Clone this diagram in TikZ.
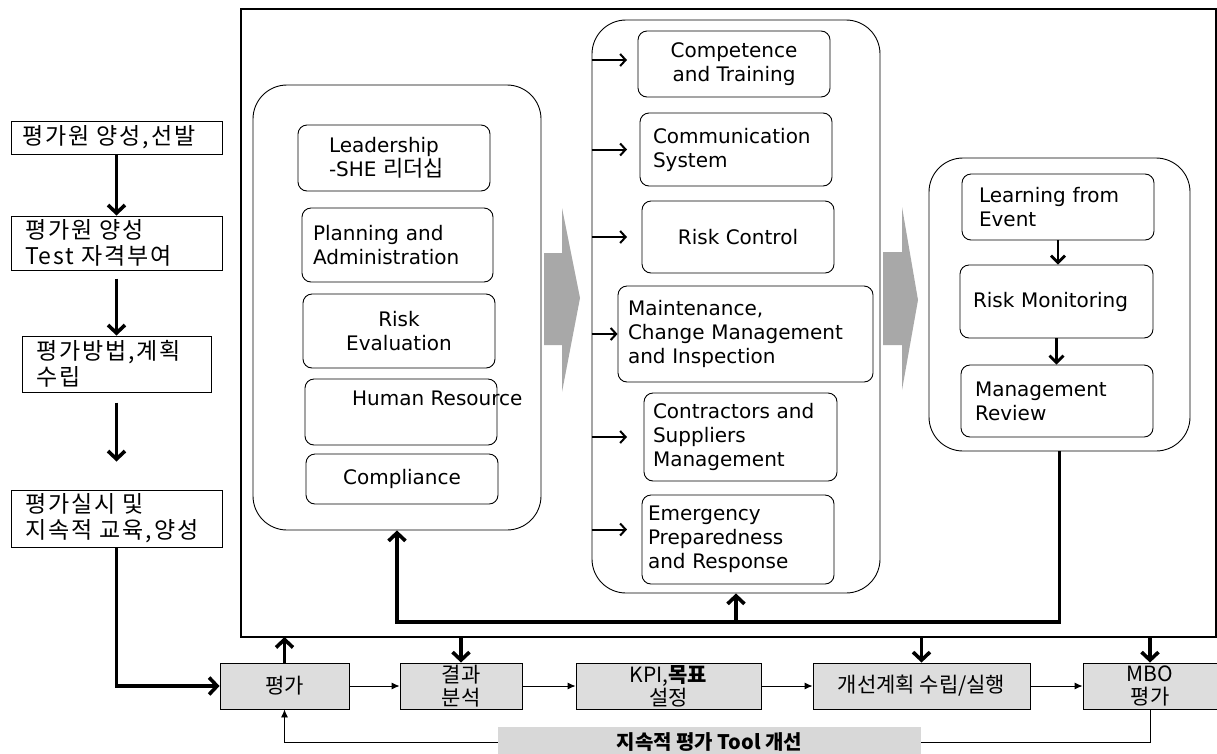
\documentclass[tikz,border=0pt]{standalone}
\usepackage{fontspec}
\setmainfont{DejaVu Sans}
\newfontfamily\krfont{Noto Sans CJK KR}
\newfontfamily\krwide{Noto Sans CJK KR}[LetterSpace=8]
\usepackage{xcolor}
\usepackage{tikz}
\usetikzlibrary{arrows.meta,positioning,calc}

\definecolor{boxgray}{RGB}{221,221,221}
\definecolor{bargray}{RGB}{216,216,216}
\definecolor{arrgray}{RGB}{168,168,168}
\newcommand{\kr}[1]{{\krfont\fontsize{22}{24}\selectfont #1}}

\tikzset{
  lbox/.style={draw, line width=1pt, inner ysep=0pt, align=left, font=\krwide\fontsize{23}{26}\selectfont},
  item/.style={draw, line width=0.9pt, rounded corners=9pt, inner ysep=0pt, font=\fontsize{20}{24}\selectfont},
  grp/.style={draw, line width=0.9pt, rounded corners=34pt, inner sep=0pt},
  gbox/.style={draw, line width=0.9pt, fill=boxgray, inner sep=0pt, minimum height=46pt, align=center, font=\krfont\fontsize{21}{23}\selectfont},
  thk/.style={line width=3.6pt, -{Straight Barb[length=8pt,width=17pt]}},
  mthk/.style={line width=2.8pt, -{Straight Barb[length=7pt,width=14pt]}},
  sarr/.style={line width=2pt, -{Straight Barb[length=5.5pt,width=12pt]}},
  tarr/.style={line width=0.9pt, -{Latex[length=8pt,width=7pt]}}
}

\begin{document}
\begin{tikzpicture}[x=1pt,y=-1pt]
	\useasboundingbox (0,0) rectangle (1217,753);

	%Shape: Rectangle (outer frame)
	\draw [line width=1.1pt] (241,9) rectangle (1216,637);
	\coordinate (fb) at (241,637);
	\coordinate (fbk) at (0,622);
	\coordinate (tipx) at (627,0);

	% left column
	\node [lbox, text width=189pt, inner xsep=11pt, minimum height=33pt] (e1) at (116.5,137.5) {평가원 양성,선발};
	\node [lbox, text width=183pt, inner xsep=14pt, minimum height=54pt] (e2) at (116.5,243) {평가원 양성\\Test 자격부여};
	\node [lbox, text width=161pt, inner xsep=14pt, minimum height=56pt] (e3) at (116.5,364) {평가방법,계획\\수립};
	\node [lbox, text width=183pt, inner xsep=14pt, minimum height=57pt] (e4) at (116.5,518.5) {평가실시 및\\지속적 교육,양성};

	% groups
	\node [grp, minimum width=288pt, minimum height=445pt] (lgrp) at (397,307.5) {};
	\node [grp, minimum width=288pt, minimum height=573pt] (mgrp) at (736,306.5) {};
	\node [grp, minimum width=261pt, minimum height=293pt] (rgrp) at (1059.5,304.5) {};

	% left group items
	\node [item, text width=130pt, inner xsep=31pt, minimum height=66pt, align=left] (lead) at (394,158) {Leadership\\-SHE \kr{리더십}};
	\node [item, text width=169pt, inner xsep=11pt, minimum height=74pt, align=left] (plan) at (397.5,245) {Planning and\\Administration};
	\node [item, minimum width=192pt, minimum height=74pt, align=center] (reval) at (399,331) {Risk\\Evaluation};
	\node [item, minimum width=192pt, minimum height=66pt] (hr) at (401,412) {};
	\node [anchor=west, inner sep=0pt, font=\fontsize{20}{24}\selectfont] (hrtxt) at (352,398) {Human Resource};
	\node [item, minimum width=192pt, minimum height=50pt] (cmpl) at (402,479) {Compliance};

	% middle group items
	\node [item, minimum width=192pt, minimum height=66pt, align=center] (comp) at (734,64) {Competence\\and Training};
	\node [item, text width=166pt, inner xsep=13pt, minimum height=73pt, align=left] (comm) at (736,149.5) {Communication\\System};
	\node [item, minimum width=192pt, minimum height=72pt] (rctl) at (738,237) {Risk Control};
	\node [item, text width=235pt, inner xsep=10pt, minimum height=96pt, align=left] (mnt) at (745.5,334) {Maintenance,\\Change Management\\and Inspection};
	\node [item, text width=175pt, inner xsep=9pt, minimum height=88pt, align=left] (cont) at (740.5,437) {Contractors and\\Suppliers\\Management};
	\node [item, text width=180pt, inner xsep=6pt, minimum height=89pt, align=left] (emer) at (738,539.5) {Emergency\\Preparedness\\and Response};

	% right group items
	\node [item, text width=158pt, inner xsep=17pt, minimum height=66pt, align=left] (lrn) at (1058,207) {Learning from\\Event};
	\node [item, text width=167pt, inner xsep=13pt, minimum height=73pt, align=left] (rmon) at (1056.5,301.5) {Risk Monitoring};
	\node [item, text width=164pt, inner xsep=14pt, minimum height=72pt, align=left] (mrev) at (1057,401) {Management\\Review};

	%Shape: gray block arrows
	\fill [arrgray] (544,253) -- (562,253) -- (562,208) -- (580,298) -- (562,392) -- (562,345) -- (544,345) -- cycle;
	\fill [arrgray] (883,252) -- (902,252) -- (902,207) -- (918,300) -- (902,390) -- (902,345) -- (883,345) -- cycle;

	% bottom row
	\node [gbox, minimum width=129pt] (ev) at (284.5,686) {평가};
	\node [gbox, minimum width=122pt] (res) at (461,686) {결과\\분석};
	\node [gbox, minimum width=185pt] (kpi) at (668.5,686) {KPI,\textbf{목표}\\설정};
	\node [gbox, minimum width=217pt] (imp) at (921.5,686) {개선계획 수립/실행};
	\node [gbox, minimum width=134pt] (mbo) at (1150,686) {MBO\\평가};
	\node [fill=bargray, inner sep=0pt, minimum width=423pt, minimum height=30pt, font=\krfont\bfseries\fontsize{20}{23}\selectfont] (bar) at (709.5,742) {지속적 평가 Tool 개선};

	% left column arrows
	\draw [thk] (e1) -- (e2);
	\draw [thk, shorten <=8pt] (e2) -- (e3);
	\draw [thk, shorten <=10pt, shorten >=28pt] (e3) -- (e4);
	\draw [thk] (e4.south) |- (ev.west);

	% bottom row arrows
	\draw [tarr] (ev) -- (res);
	\draw [tarr] (res) -- (kpi);
	\draw [tarr] (kpi) -- (imp);
	\draw [tarr] (imp) -- (mbo);
	\draw [line width=0.9pt] (mbo.south) |- (bar.east);
	\draw [tarr] (bar.west) -| (ev.south);

	% arrows through the frame
	\draw [thk] (ev.north) -- (ev.north |- fb);
	\draw [thk] (res.north |- fb) -- (res.north);
	\draw [thk] (imp.north |- fb) -- (imp.north);
	\draw [thk] (mbo.north |- fb) -- (mbo.north);

	% feedback loop
	\draw [thk] (rgrp.south) |- (lgrp.south |- fbk) -- (lgrp.south);
	\draw [thk] (mgrp.south |- fbk) -- (mgrp.south);

	% middle group arrows
	\foreach \n/\dy in {comp/4,comm/0,rctl/0,cont/0,emer/10}
		\draw [sarr] ([yshift=\dy pt]mgrp.west |- \n) -- ([yshift=\dy pt]tipx |- \n);
	\draw [sarr] (mgrp.west |- mnt) -- (mnt.west);

	% right group arrows
	\draw [mthk] (lrn.south) -- (lrn.south |- rmon.north);
	\draw [mthk] (rmon.south) -- (rmon.south |- mrev.north);
\end{tikzpicture}
\end{document}
